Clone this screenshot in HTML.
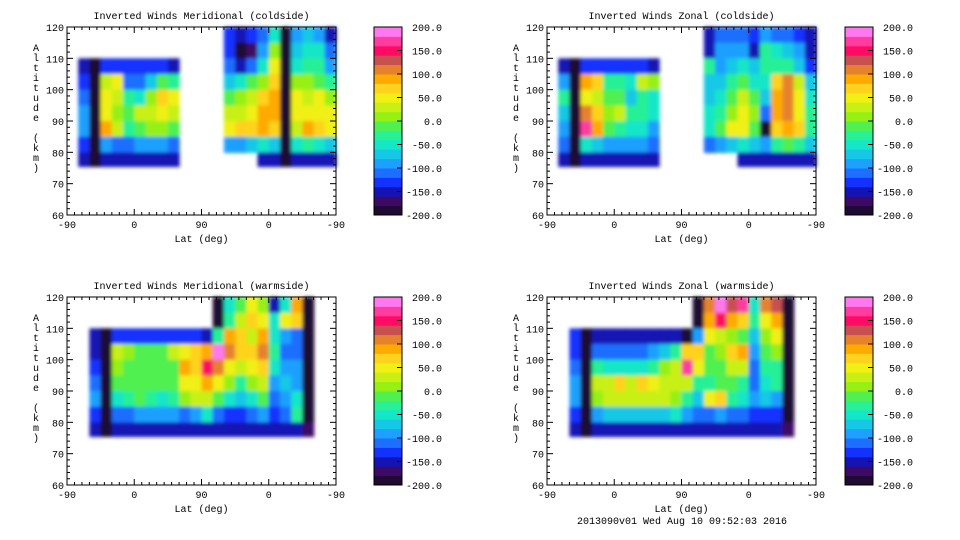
<!DOCTYPE html>
<html><head><meta charset="utf-8"><style>
html,body{margin:0;padding:0;background:#fff;width:960px;height:540px;overflow:hidden}
svg text{font-family:"Liberation Mono",monospace;font-size:10px;fill:#000}
</style></head><body>
<svg id="c" width="960" height="540" xmlns="http://www.w3.org/2000/svg">
<defs><filter id="soft" x="-5%" y="-5%" width="110%" height="110%"><feGaussianBlur stdDeviation="1.8"/></filter></defs>
</svg>
<script>
const N = null;
const altRows = [117.5, 112.5, 107.5, 102.5, 97.5, 92.5, 87.5, 82.5, 77.5];
const colorLevels = [-200,-180,-160,-140,-120,-100,-80,-60,-40,-20,0,20,40,60,80,100,120,140,160,180];
const colorbarTicks = ["200.0","150.0","100.0","50.0","0.0","-50.0","-100.0","-150.0","-200.0"];
const yTicks = [120,110,100,90,80,70,60];
const xTickLabels = ["-90","0","90","0","-90"];
const titles = ["Inverted Winds Meridional (coldside)","Inverted Winds Zonal (coldside)","Inverted Winds Meridional (warmside)","Inverted Winds Zonal (warmside)"];
const palette = ["#1e0a32","#3c0a64","#1414b4","#1432ff","#1e6eff","#1ea0ff","#14c8e6","#14e6c8","#28f096","#50f050","#96f014","#c8f014","#f0f014","#ffd21e","#ffaa00","#e6822d","#c85050","#ff0a64","#ff3ca0","#ff78f0"];
const colsTL = [
[N,N,N,N,N,N,N,N,N],
[N,N,-150,-140,-120,-100,-100,-130,-150],
[N,N,-190,-190,-190,-190,-190,-190,-190],
[N,N,-140,20,40,40,80,-100,-150],
[N,N,-140,40,20,0,30,-110,-150],
[N,N,-140,-120,-40,-20,-30,-120,-150],
[N,N,-140,-120,-60,30,-10,-100,-150],
[N,N,-140,-80,0,20,0,-100,-150],
[N,N,-140,-20,60,40,0,-90,-150],
[N,N,-150,-30,40,20,-20,-120,-150],
[N,N,N,N,N,N,N,N,N],[N,N,N,N,N,N,N,N,N],[N,N,N,N,N,N,N,N,N],[N,N,N,N,N,N,N,N,N],
[-140,-140,-120,-80,-20,20,40,-100,N],
[-160,-190,-150,-60,0,20,60,-100,N],
[-140,-170,-120,-20,20,40,60,-80,N],
[-120,-100,-60,0,60,80,80,-60,-150],
[-60,0,40,60,80,80,60,-80,-150],
[-190,-190,-190,-190,-190,-190,-190,-190,-190],
[-100,-80,-60,0,40,40,20,-60,-150],
[-80,-60,-40,0,20,40,80,-40,-150],
[-100,-60,-40,-20,40,40,60,-60,-150],
[-150,-120,-100,-40,0,40,40,-80,-150]];
const colsTR = [
[N,N,N,N,N,N,N,N,N],
[N,N,-150,-100,-40,-80,-100,-120,-150],
[N,N,-190,-190,-190,-190,-190,-190,-190],
[N,N,-140,80,40,100,160,-60,-150],
[N,N,-140,60,20,60,80,-80,-150],
[N,N,-140,-40,-20,0,-20,-100,-150],
[N,N,-140,-40,-20,20,-40,-100,-150],
[N,N,-140,-60,-80,-40,-60,-100,-150],
[N,N,-140,20,-40,-40,-60,-100,-150],
[N,N,-150,0,-60,-60,-100,-120,-150],
[N,N,N,N,N,N,N,N,N],[N,N,N,N,N,N,N,N,N],[N,N,N,N,N,N,N,N,N],[N,N,N,N,N,N,N,N,N],
[-150,-150,-40,-80,-80,-60,-60,-120,N],
[-120,-100,-100,-80,-60,-40,-20,-100,N],
[-120,-100,-80,-40,-20,0,40,-80,N],
[-120,-100,-60,-20,20,40,40,-60,-150],
[-140,-160,-80,-60,-20,0,-20,-80,-150],
[-100,-40,-40,-60,-80,-120,-190,-100,-150],
[-120,-60,-40,60,80,80,60,-40,-150],
[-120,-80,-40,100,100,100,80,-20,-150],
[-140,-100,-80,20,40,40,60,-40,-150],
[-160,-150,-130,-80,-60,-40,-40,-80,-150]];
const colsBL = [
[N,N,N,N,N,N,N,N,N],[N,N,N,N,N,N,N,N,N],
[N,N,-150,-150,-140,-120,-100,-140,-150],
[N,N,-190,-190,-190,-190,-190,-190,-190],
[N,N,-140,20,0,-20,-60,-120,-150],
[N,N,-140,0,-10,-20,-40,-110,-150],
[N,N,-140,-10,-10,-10,-20,-100,-150],
[N,N,-140,-10,-10,-20,-40,-100,-150],
[N,N,-140,-20,-20,-10,-60,-100,-150],
[N,N,-140,20,-10,-20,-40,-100,-150],
[N,N,-140,40,80,40,0,-110,-150],
[N,N,-140,60,60,40,20,-100,-150],
[N,N,-150,80,140,80,20,-60,-150],
[-190,-190,-40,180,100,40,-20,-120,-150],
[-60,-40,80,100,40,0,-60,-140,-150],
[-20,20,60,60,20,-40,-80,-140,-150],
[40,60,20,60,40,0,-60,-120,-150],
[0,40,80,100,60,20,-20,-100,-150],
[-150,-60,-60,-40,-60,-100,-120,-140,-150],
[-60,40,-100,-120,-100,-80,-100,-120,-150],
[80,60,-110,-110,-100,-100,-60,-40,-150],
[-190,-190,-190,-190,-190,-190,-190,-190,-170],
[N,N,N,N,N,N,N,N,N],[N,N,N,N,N,N,N,N,N]];
const colsBR = [
[N,N,N,N,N,N,N,N,N],[N,N,N,N,N,N,N,N,N],
[N,N,-140,-140,-120,-100,-100,-140,-150],
[N,N,-190,-190,-190,-190,-190,-190,-190],
[N,N,-150,-120,-40,20,0,-100,-150],
[N,N,-150,-120,-60,20,20,-80,-150],
[N,N,-150,-120,-60,60,20,-80,-150],
[N,N,-150,-120,-60,20,20,-80,-150],
[N,N,-150,-120,-60,60,20,-80,-150],
[N,N,-150,-100,-40,40,20,-80,-150],
[N,N,-150,-80,0,20,20,-80,-150],
[N,N,-150,-40,20,20,0,-60,-150],
[N,N,-190,60,160,20,-40,-100,-150],
[-190,-190,-100,60,40,-40,-80,-120,-150],
[100,80,40,-20,-20,-40,40,-120,-150],
[180,140,20,0,-20,-20,60,-100,-150],
[120,80,0,60,20,-20,-40,-120,-150],
[160,60,-20,80,20,-40,-60,-120,-150],
[-60,-40,-80,-100,-120,-120,-100,-140,-150],
[100,40,0,-20,-40,-60,-80,-130,-150],
[120,80,40,0,-40,-40,-100,-140,-150],
[-190,-190,-190,-190,-190,-190,-190,-190,-170],
[N,N,N,N,N,N,N,N,N],[N,N,N,N,N,N,N,N,N]];
const panelData = [colsTL, colsTR, colsBL, colsBR];

const svg = document.getElementById('c');
const NS = 'http://www.w3.org/2000/svg';
function mk(tag, attrs, parent){const e=document.createElementNS(NS,tag);for(const k in attrs)e.setAttribute(k,attrs[k]);(parent||svg).appendChild(e);return e;}
function colorOf(v){let i=Math.floor((v+200)/20);i=Math.max(0,Math.min(19,i));return palette[i];}

const offsets=[[0,0],[480,0],[0,270],[480,270]];
offsets.forEach(([ox,oy],p)=>{
  const L=67+ox,R=336+ox,T=27+oy,B=215+oy;
  const xs=u=>L+u*(R-L)/360;
  const ys=a=>B-(a-60)*(B-T)/60;
  const g=mk('g',{});
  
  
  const t=mk('text',{x:(L+R)/2,y:19+oy,'text-anchor':'middle'},g);
  t.textContent=titles[p];
  
  
  const hg=mk('g',{filter:'url(#soft)'},g);
  
  
  const cols=panelData[p];
  cols.forEach((col,ci)=>{
    col.forEach((v,ri)=>{
      if(v===null)return;
      const a=altRows[ri];
      const top=Math.min(120,a+2.5), bot=(ri===8)?Math.max(75.5,a-2.5):a-2.5;
      const r=mk('rect',{x:xs(ci*15).toFixed(1),y:ys(top).toFixed(1),width:(xs(15)-L+0.6).toFixed(1),height:(ys(bot)-ys(top)+0.6).toFixed(1),fill:colorOf(v)},hg);
      
      
    });
  });
  const f=mk('rect',{x:L,y:T,width:R-L,height:B-T,fill:'none',stroke:'#000','stroke-width':1},g);
  
  
  for(let a=60;a<=120;a+=2){
    const len=(a%10===0)?6:3;
    mk('line',{x1:L,x2:L+len,y1:ys(a),y2:ys(a),stroke:'#000'},g);
    mk('line',{x1:R,x2:R-len,y1:ys(a),y2:ys(a),stroke:'#000'},g);
  }
  yTicks.forEach(a=>{
    const tx=mk('text',{x:L-3,y:ys(a)+4,'text-anchor':'end'},g);
    tx.textContent=String(a);
    
    
  });
  for(let u=0;u<=360;u+=10){
    const len=(u%90===0)?6:3;
    mk('line',{x1:xs(u),x2:xs(u),y1:B,y2:B-len,stroke:'#000'},g);
    mk('line',{x1:xs(u),x2:xs(u),y1:T,y2:T+len,stroke:'#000'},g);
  }
  xTickLabels.forEach((lb,i)=>{
    const tx=mk('text',{x:xs(i*90),y:B+13,'text-anchor':'middle'},g);
    tx.textContent=lb;
    
    
  });
  const xl=mk('text',{x:(L+R)/2,y:B+27,'text-anchor':'middle'},g);
  xl.textContent='Lat (deg)';
  
  
  const yl=mk('text',{x:36+ox,y:50+oy,'text-anchor':'middle'},g);
  
  
  'Altitude (km)'.split('').forEach((ch,i)=>{const s=mk('tspan',{x:36+ox,y:51+oy+i*10},yl);s.textContent=ch;});
  const cx=(p%2===0?374:365)+ox, cw=28;
  const cb=mk('g',{},g);
  
  
  colorLevels.forEach((lv,i)=>{
    const y0=B-(i+1)*(B-T)/20;
    mk('rect',{x:cx,y:y0.toFixed(1),width:cw,height:((B-T)/20+0.5).toFixed(1),fill:colorOf(lv+10)},cb);
  });
  mk('rect',{x:cx,y:T,width:cw,height:B-T,fill:'none',stroke:'#000'},cb);
  colorbarTicks.forEach((lb,i)=>{
    const y=T+i*(B-T)/8;
    mk('line',{x1:cx+cw-5,x2:cx+cw,y1:y,y2:y,stroke:'#000'},cb);
    const tx=mk('text',{x:cx+68,y:y+4,'text-anchor':'end'},cb);
    tx.textContent=lb;
    
    
  });
});
const foot=mk('text',{x:682,y:524,'text-anchor':'middle'});
foot.textContent='2013090v01 Wed Aug 10 09:52:03 2016';


</script>
</body></html>
